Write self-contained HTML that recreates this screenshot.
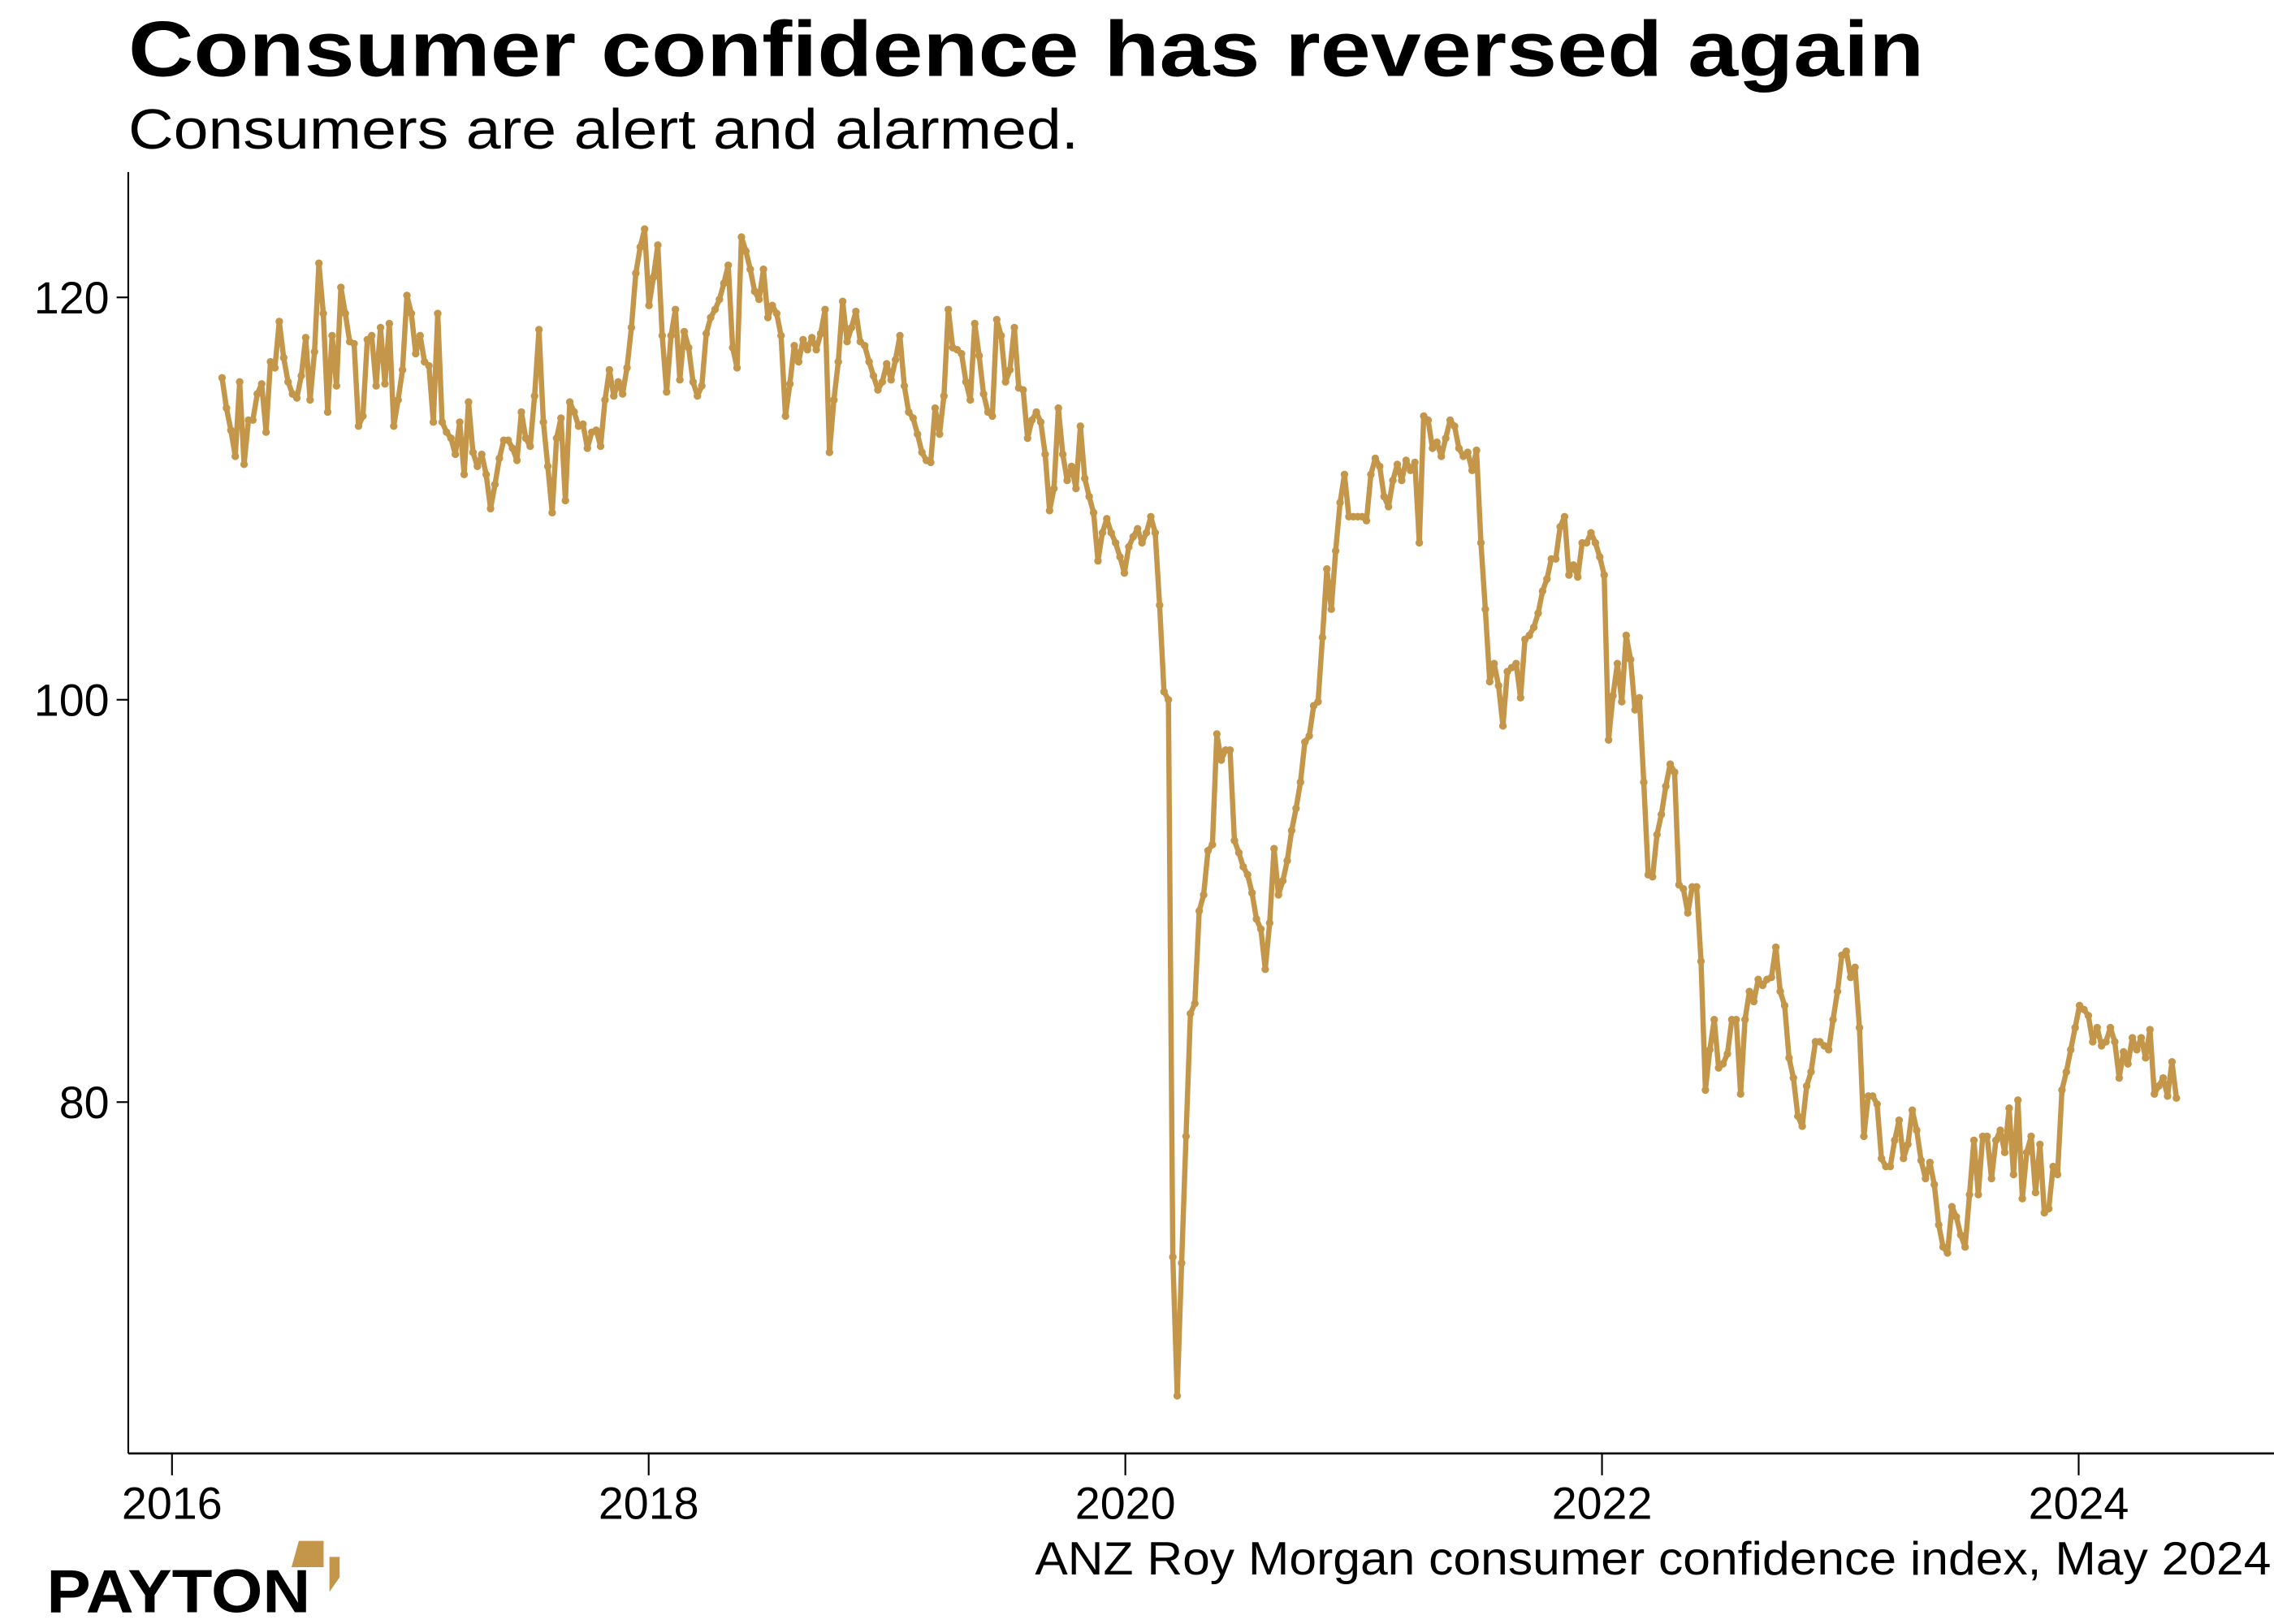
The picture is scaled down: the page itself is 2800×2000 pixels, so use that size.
<!DOCTYPE html>
<html><head><meta charset="utf-8"><style>
html,body{margin:0;padding:0;background:#fff;}
svg{display:block;}
text{font-family:"Liberation Sans",sans-serif;fill:#000;}
</style></head><body>
<svg id="chart" width="2800" height="2000" viewBox="0 0 1560 1114" preserveAspectRatio="none" xmlns="http://www.w3.org/2000/svg">
<text x="88" y="52" font-size="54" font-weight="bold" textLength="1232" lengthAdjust="spacingAndGlyphs">Consumer confidence has reversed again</text>
<text x="88" y="102" font-size="39" textLength="652" lengthAdjust="spacingAndGlyphs">Consumers are alert and alarmed.</text>
<g id="axes"></g>
<g id="series"></g>
<text x="1558" y="1080" font-size="32" text-anchor="end" textLength="848" lengthAdjust="spacingAndGlyphs">ANZ Roy Morgan consumer confidence index, May 2024</text>
<g>
<text x="32" y="1106" font-size="42" font-weight="bold" textLength="181" lengthAdjust="spacingAndGlyphs">PAYTON</text>
<polygon points="205,1057 222,1057 222,1075 200,1075" fill="#C4964A"/>
<polygon points="226,1068 233,1068 233,1082 226,1092" fill="#C4964A"/>
</g>
</svg>
<script>
const startDate = 2016.21;
const endDate = 2024.41;
const values = [116.0,114.5,113.4,112.1,115.8,111.7,113.9,113.9,115.2,115.7,113.3,116.8,116.5,118.8,117.0,115.8,115.2,115.0,116.1,118.0,114.9,117.3,121.7,119.2,114.3,118.1,115.6,120.5,119.2,117.8,117.7,113.6,114.1,117.9,118.1,115.6,118.5,115.7,118.7,113.6,114.9,116.4,120.1,119.2,117.2,118.1,116.8,116.6,113.8,119.2,113.8,113.3,113.0,112.2,113.8,111.2,114.8,112.3,111.6,112.2,111.2,109.5,110.7,112.0,112.9,112.9,112.5,111.9,114.3,113.0,112.6,115.1,118.4,113.8,111.6,109.3,113.0,114.0,109.9,114.8,114.3,113.6,113.7,112.5,113.3,113.4,112.6,114.9,116.4,115.1,115.8,115.2,116.5,118.5,121.2,122.5,123.4,119.6,121.0,122.6,118.1,115.3,118.1,119.4,115.9,118.3,117.5,115.8,115.1,115.6,118.2,119.0,119.4,119.9,120.7,121.6,117.5,116.5,123.0,122.3,121.4,120.3,119.9,121.4,119.0,119.6,119.2,118.1,114.1,115.7,117.6,116.8,117.9,117.4,118.0,117.4,118.2,119.4,112.3,114.9,116.8,119.8,117.8,118.5,119.3,117.8,117.6,116.8,116.1,115.4,115.8,116.7,115.9,116.9,118.1,115.6,114.3,114.0,113.2,112.3,111.9,111.8,114.5,113.2,115.1,119.4,117.5,117.4,117.2,115.8,114.9,118.7,117.1,115.2,114.3,114.1,118.9,118.1,115.8,116.4,118.5,115.5,115.4,113.0,113.9,114.3,113.8,112.2,109.4,110.5,114.5,112.2,110.9,111.6,110.5,113.6,111.0,110.1,109.3,106.9,108.3,109.0,108.3,107.8,107.1,106.3,107.6,108.1,108.5,107.8,108.3,109.1,108.3,104.7,100.4,100.0,72.3,65.4,72.0,78.3,84.4,84.9,89.5,90.3,92.5,92.8,98.3,97.0,97.5,97.5,93.0,92.4,91.7,91.3,90.4,89.1,88.6,86.6,88.9,92.6,90.3,91.0,92.0,93.5,94.6,95.9,97.9,98.2,99.7,99.9,103.1,106.5,104.5,107.4,109.8,111.2,109.1,109.1,109.1,109.1,108.9,111.2,112.0,111.6,110.1,109.6,110.9,111.7,110.9,111.9,111.4,111.8,107.8,114.1,113.9,112.5,112.8,112.1,113.0,113.9,113.6,112.5,112.1,112.3,111.4,112.4,107.8,104.5,100.9,101.8,100.7,98.7,101.4,101.6,101.8,100.1,103.0,103.2,103.6,104.3,105.4,106.0,107.0,107.0,108.6,109.1,106.2,106.7,106.1,107.8,107.8,108.3,107.8,107.1,106.2,98.0,100.2,101.8,99.9,103.2,102.0,99.5,100.1,95.9,91.3,91.2,93.3,94.3,95.7,96.8,96.4,90.8,90.6,89.4,90.7,90.7,87.0,80.6,82.6,84.1,81.7,81.9,82.4,84.1,84.1,80.4,84.1,85.5,85.0,86.1,85.8,86.1,86.2,87.7,85.5,84.8,82.2,81.2,79.3,78.8,80.8,81.5,83.0,83.0,82.8,82.6,84.1,85.5,87.3,87.5,86.2,86.7,83.7,78.3,80.3,80.3,79.9,77.2,76.8,76.8,78.1,79.1,77.2,77.9,79.6,78.6,77.1,76.2,77.0,75.9,73.9,72.8,72.5,74.8,74.3,73.4,72.8,75.4,78.1,75.4,78.3,78.3,76.2,78.1,78.6,77.5,79.7,76.4,80.1,75.2,77.5,78.3,75.5,77.9,74.5,74.7,76.8,76.4,80.6,81.5,82.6,83.7,84.8,84.6,84.3,83.0,83.7,82.8,83.0,83.7,83.0,81.2,82.5,81.9,83.2,82.6,83.2,82.2,83.6,80.4,80.8,81.2,80.3,82.0,80.2];
const yTicks = [120,100,80];
const xTicks = [2016,2018,2020,2022,2024];

const NS = 'http://www.w3.org/2000/svg';
function xs(t){ return 118 + (t - 2016) * 163.5; }
function ys(v){ return 204 + (120 - v) * 13.8; }
function mk(tag, attrs, parent){ const e = document.createElementNS(NS, tag); for (const k in attrs) e.setAttribute(k, attrs[k]); parent.appendChild(e); return e; }

const axes = document.getElementById('axes');
let yl = mk('line', {x1:88, y1:118, x2:88, y2:997, stroke:'#000', 'stroke-width':1.2}, axes);


let xl = mk('line', {x1:88, y1:997, x2:1560, y2:997, stroke:'#000', 'stroke-width':1.5}, axes);


yTicks.forEach(v => {
  const tk = mk('line', {x1:80, y1:ys(v), x2:88, y2:ys(v), stroke:'#000', 'stroke-width':1.2}, axes);
  
  
  const lb = mk('text', {x:75, y:ys(v)+11, 'font-size':31, 'text-anchor':'end'}, axes);
  lb.textContent = v;
  
  
});
xTicks.forEach(t => {
  const tk = mk('line', {x1:xs(t), y1:997, x2:xs(t), y2:1012, stroke:'#000', 'stroke-width':1.2}, axes);
  
  
  const lb = mk('text', {x:xs(t), y:1042, 'font-size':31, 'text-anchor':'middle'}, axes);
  lb.textContent = t;
  
  
});

const series = document.getElementById('series');
const n = values.length;
const dates = values.map((v, i) => startDate + (endDate - startDate) * i / (n - 1));
const pts = values.map((v, i) => xs(dates[i]).toFixed(2) + ',' + ys(v).toFixed(2)).join(' ');
const line = mk('polyline', {points:pts, fill:'none', stroke:'#C4964A', 'stroke-width':3.6, 'stroke-linejoin':'round', 'stroke-linecap':'round'}, series);


values.forEach((v, i) => {
  const c = mk('circle', {cx:xs(dates[i]), cy:ys(v), r:2.6, fill:'#C4964A'}, series);
  
  
});
</script>
</body></html>
